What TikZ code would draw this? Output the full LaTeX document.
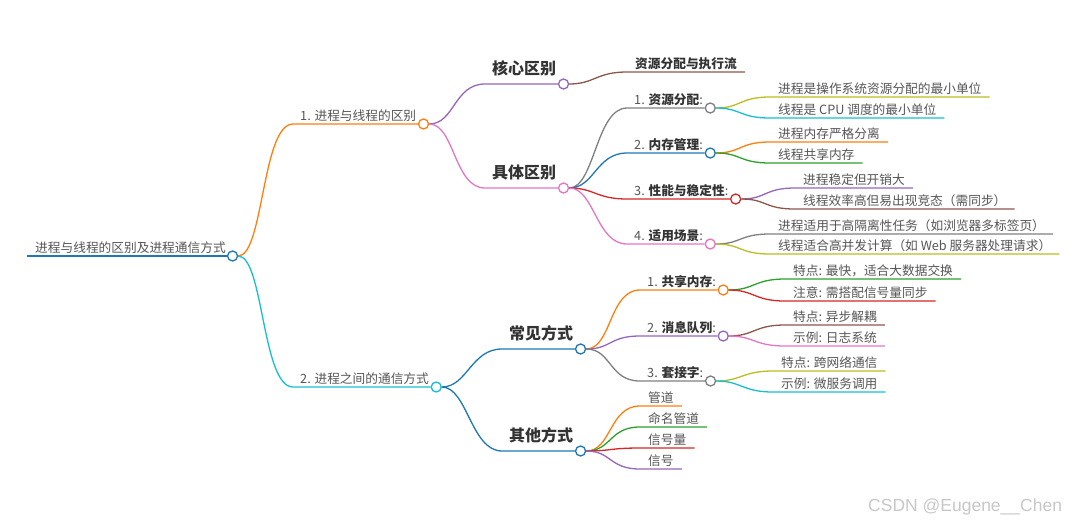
\documentclass[tikz,border=0pt]{standalone}
\usepackage{fontspec}
\setmainfont{Noto Sans CJK SC}
\newfontfamily\markfont{Liberation Sans}
\usetikzlibrary{positioning}

\definecolor{mmblue}{HTML}{1F77B4}
\definecolor{mmorange}{HTML}{FF7F0E}
\definecolor{mmcyan}{HTML}{17BECF}
\definecolor{mmpurple}{HTML}{9467BD}
\definecolor{mmpink}{HTML}{E377C2}
\definecolor{mmbrown}{HTML}{8C564B}
\definecolor{mmgray}{HTML}{7F7F7F}
\definecolor{mmred}{HTML}{D62728}
\definecolor{mmgreen}{HTML}{2CA02C}
\definecolor{mmolive}{HTML}{BCBD22}
\definecolor{textgray}{HTML}{555555}
\definecolor{textdark}{HTML}{333333}

\tikzstyle{knot}=[circle,draw,fill=white,line width=1.3pt,
    minimum size=10pt,inner sep=0pt]
\tikzstyle{limb}=[line width=1.3pt]
\tikzstyle{leaf text}=[anchor=south west,inner xsep=0pt,inner ysep=2pt,
    text depth=1pt,text=textgray,font=\fontsize{12.7}{15}\selectfont]
\tikzstyle{title text}=[leaf text,inner ysep=8pt,text=textdark,
    font=\fontsize{16}{19}\selectfont\bfseries]
\newcommand{\hot}[1]{\textcolor{textdark}{\bfseries #1}}
\newcommand{\topic}[6][leaf text]{
    \coordinate (#4-s) at (#5);
    \node[#1,xshift=7pt] (#4-t) at (#4-s) {#6};
    \node[knot,draw=#2,right=1.5pt of #4-t.south east] (#4) {};
    \draw[limb,#2] (#3) .. controls +(31,0) and +(-31,0) .. (#4-s) -- (#4);
}
\newcommand{\leaf}[6][leaf text]{
    \coordinate (#4-s) at (#5);
    \node[#1,xshift=8pt] (#4) at (#4-s) {#6};
    \draw[limb,#2] (#3) .. controls +(31,0) and +(-31,0) .. (#4-s)
        -- ([xshift=8pt]#4.south east);
}

\begin{document}
\begin{tikzpicture}[x=1pt,y=-1pt]
    \useasboundingbox (0,0) rectangle (1083,523);
    %
    \coordinate (root-s) at (27,256);
    \node[leaf text,xshift=8pt] (root-t) at (root-s) {进程与线程的区别及进程通信方式};
    \node[knot,draw=mmblue,right=1pt of root-t.south east] (root) {};
    \draw[mmblue,line width=2pt] (root-s) -- (root);
    %
    \topic{mmorange}{root}{diff}{293,124}{1. 进程与线程的区别}
    \topic[title text]{mmpurple}{diff}{core}{485,84}{核心区别}
    \topic[title text]{mmpink}{diff}{detail}{485,188}{具体区别}
    \leaf{mmbrown}{core}{flow}{627,72}{\hot{资源分配与执行流}}
    %
    \topic{mmgray}{detail}{res}{627,108}{1. \hot{资源分配}:}
    \topic{mmblue}{detail}{mem}{627,153}{2. \hot{内存管理}:}
    \topic{mmred}{detail}{perf}{627,199}{3. \hot{性能与稳定性}:}
    \topic{mmpink}{detail}{use}{627,244}{4. \hot{适用场景}:}
    %
    \leaf{mmolive}{res}{res-a}{770,97}{进程是操作系统资源分配的最小单位}
    \leaf{mmcyan}{res}{res-b}{770,118}{线程是 CPU 调度的最小单位}
    \leaf{mmorange}{mem}{mem-a}{770,142}{进程内存严格分离}
    \leaf{mmgreen}{mem}{mem-b}{770,163}{线程共享内存}
    \leaf{mmpurple}{perf}{perf-a}{795,188}{进程稳定但开销大}
    \leaf{mmbrown}{perf}{perf-b}{795,209}{线程效率高但易出现竞态（需同步）}
    \leaf{mmgray}{use}{use-a}{770,234}{进程适用于高隔离性任务（如浏览器多标签页）}
    \leaf{mmolive}{use}{use-b}{770,254}{线程适合高并发计算（如 Web 服务器处理请求）}
    %
    %
    \topic{mmcyan}{root}{ipc}{293,387}{2. 进程之间的通信方式}
    \topic[title text]{mmblue}{ipc}{common}{502,349}{常见方式}
    \topic[title text]{mmblue}{ipc}{other}{502,451}{其他方式}
    \draw[mmblue!65,line width=2.6pt] (common-s) -- (common);
    \draw[mmblue!65,line width=2.6pt] (other-s) -- (other);
    %
    \topic{mmorange}{common}{shm}{640,290}{1. \hot{共享内存}:}
    \topic{mmpurple}{common}{mq}{640,336}{2. \hot{消息队列}:}
    \topic{mmgray}{common}{sock}{640,381}{3. \hot{套接字}:}
    %
    \leaf{mmgreen}{shm}{shm-a}{785,279}{特点: 最快，适合大数据交换}
    \leaf{mmred}{shm}{shm-b}{785,301}{注意: 需搭配信号量同步}
    \leaf{mmbrown}{mq}{mq-a}{785,325}{特点: 异步解耦}
    \leaf{mmpink}{mq}{mq-b}{785,346}{示例: 日志系统}
    \leaf{mmolive}{sock}{sock-a}{773,371}{特点: 跨网络通信}
    \leaf{mmcyan}{sock}{sock-b}{773,392}{示例: 微服务调用}
    %
    \leaf{mmorange}{other}{pipe}{640,406}{管道}
    \leaf{mmgreen}{other}{fifo}{640,427}{命名管道}
    \leaf{mmred}{other}{sem}{640,448}{信号量}
    \leaf{mmpurple}{other}{sig}{640,469}{信号}
    %
    \node[anchor=base west,inner sep=0pt,text=black!22,
        font=\markfont\fontsize{17.5}{20}\selectfont] (mark) at (868,511)
        {CSDN @Eugene\_\_Chen};
\end{tikzpicture}
\end{document}
